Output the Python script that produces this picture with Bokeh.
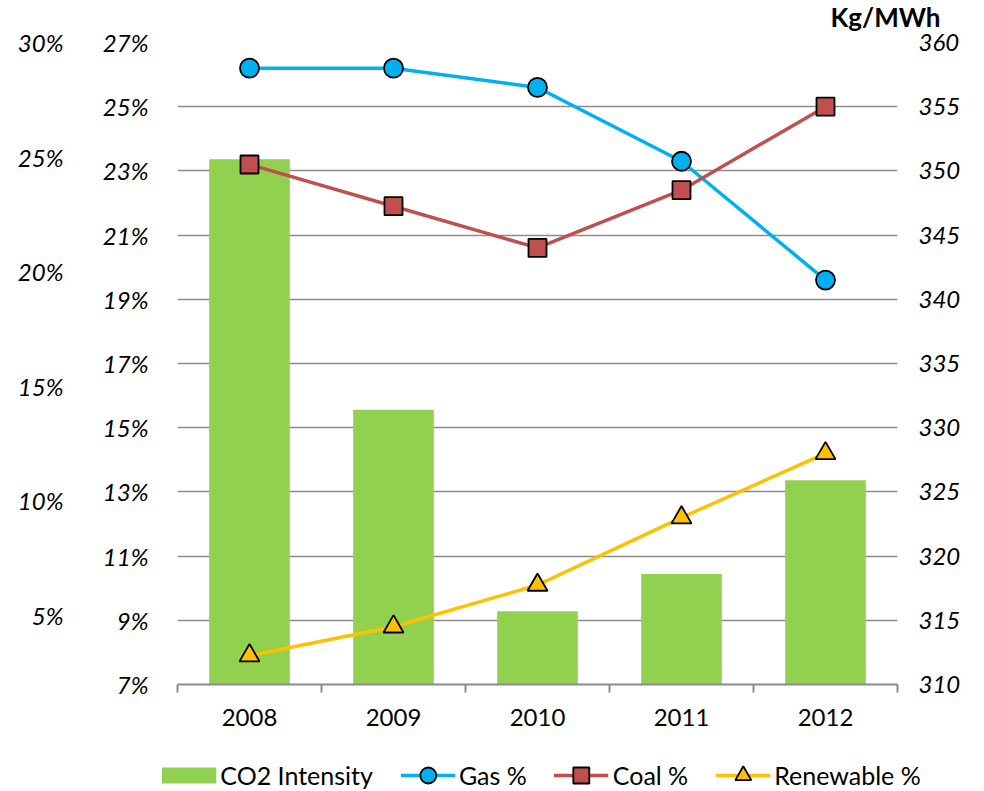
from bokeh.plotting import figure
from bokeh.models import (Range1d, LinearAxis, FixedTicker, PrintfTickFormatter,
                          Legend, LegendItem, Label)
from bokeh.embed import file_html
from bokeh.resources import INLINE

# ---------------- data ----------------
years = ["2008", "2009", "2010", "2011", "2012"]
co2_intensity = [350.9, 331.4, 315.7, 318.6, 325.9]      # Kg/MWh, right axis
gas_share = [26.2, 26.2, 25.6, 23.3, 19.6]               # %
coal_share = [23.2, 21.9, 20.6, 22.4, 25.0]              # %
renewable_share = [7.9, 8.8, 10.1, 12.2, 14.2]           # %

share_ticks = [7, 9, 11, 13, 15, 17, 19, 21, 23, 25, 27]
outer_share_ticks = [5, 10, 15, 20, 25, 30]
co2_ticks = [310, 315, 320, 325, 330, 335, 340, 345, 350, 355, 360]

# ---------------- layout / style ----------------
W = 984
H_MAIN, H_LEG = 730, 61
BL, BR, BT, BB = 177, 87, 42, 46
FW, FH = W - BL - BR, H_MAIN - BT - BB
FONT = "Lato"
GRID = "#8C8C8C"
GREEN = "#92D050"
BLUE = "#00B0F0"
RED = "#C0504D"
GOLD = "#FFC000"

xs = [i + 0.5 for i in range(len(years))]
bounds = list(range(len(years) + 1))

p = figure(width=W, height=H_MAIN,
           x_range=Range1d(0, len(years)),
           y_range=Range1d(share_ticks[0], share_ticks[-1]),
           output_backend="svg", toolbar_location=None,
           min_border_left=BL, min_border_right=BR,
           min_border_top=BT, min_border_bottom=BB,
           outline_line_color=None)
p.extra_y_ranges = {
    "co2": Range1d(co2_ticks[0], co2_ticks[-1]),
    "outer": Range1d(30 - FH / 22.9, 30),
}

# bars
p.vbar(x=xs, top=co2_intensity, bottom=co2_ticks[0], width=0.56,
       y_range_name="co2", fill_color=GREEN, line_color=None)

# lines + markers
p.line(xs, gas_share, line_color=BLUE, line_width=3.5)
p.scatter(xs, gas_share, marker="circle", size=19,
          fill_color=BLUE, line_color="black", line_width=1.8)
p.line(xs, coal_share, line_color=RED, line_width=3.5)
p.scatter(xs, coal_share, marker="square", size=18,
          fill_color=RED, line_color="black", line_width=1.8)
p.line(xs, renewable_share, line_color=GOLD, line_width=3.5)
p.scatter(xs, renewable_share, marker="triangle", size=20,
          fill_color=GOLD, line_color="black", line_width=1.8)

# ---------------- axes ----------------
xa = p.xaxis[0]
xa.ticker = FixedTicker(ticks=xs, minor_ticks=bounds)
xa.major_label_overrides = {x: y for x, y in zip(xs, years)}
xa.major_tick_in = 0
xa.major_tick_out = 0
xa.minor_tick_in = 0
xa.minor_tick_out = 8
xa.minor_tick_line_color = GRID
xa.minor_tick_line_width = 2
xa.axis_line_color = GRID
xa.axis_line_width = 2
xa.major_label_standoff = 16
xa.major_label_text_font = FONT
xa.major_label_text_font_size = "24px"
xa.major_label_text_color = "black"


def style_y(ax, standoff):
    ax.axis_line_color = None
    ax.major_tick_in = 0
    ax.major_tick_out = 0
    ax.minor_tick_in = 0
    ax.minor_tick_out = 0
    ax.major_label_standoff = standoff
    ax.major_label_text_font = FONT
    ax.major_label_text_font_size = "24px"
    ax.major_label_text_font_style = "italic"
    ax.major_label_text_color = "black"


ya = p.yaxis[0]
ya.ticker = FixedTicker(ticks=share_ticks)
ya.formatter = PrintfTickFormatter(format="%d%%")
style_y(ya, 29)

outer = LinearAxis(y_range_name="outer", ticker=FixedTicker(ticks=outer_share_ticks),
                   formatter=PrintfTickFormatter(format="%d%%"))
style_y(outer, 36)
p.add_layout(outer, "left")

right = LinearAxis(y_range_name="co2", ticker=FixedTicker(ticks=co2_ticks))
style_y(right, 21)
p.add_layout(right, "right")

p.xgrid.visible = False
p.ygrid.grid_line_color = GRID
p.ygrid.grid_line_width = 1.3

# unit label above the right axis (in the top border panel)
p.add_layout(Label(x=FW + 43, y=26, x_units="screen", y_units="screen",
                   text="Kg/MWh", text_align="right", text_baseline="middle",
                   text_font=FONT, text_font_size="26px", text_font_style="bold",
                   text_color="black"), "above")

# ---------------- legend strip ----------------
# same series, drawn off-view, only to feed the legend keys
lf = figure(width=W, height=H_LEG, x_range=Range1d(-3, -2), y_range=Range1d(-3, -2),
            x_axis_location=None, y_axis_location=None,
            output_backend="svg", toolbar_location=None,
            min_border_left=98, min_border_right=0,
            min_border_top=28, min_border_bottom=0,
            outline_line_color=None)
lf.grid.visible = False
k_co2 = lf.line(xs, co2_intensity, line_color=GREEN, line_width=16, line_cap="butt")
k_gas_l = lf.line(xs, gas_share, line_color=BLUE, line_width=3.5)
k_gas_m = lf.scatter(xs, gas_share, marker="circle", fill_color=BLUE,
                     line_color="black", line_width=1.8)
k_coal_l = lf.line(xs, coal_share, line_color=RED, line_width=3.5)
k_coal_m = lf.scatter(xs, coal_share, marker="square", fill_color=RED,
                      line_color="black", line_width=1.8)
k_ren_l = lf.line(xs, renewable_share, line_color=GOLD, line_width=3.5)
k_ren_m = lf.scatter(xs, renewable_share, marker="triangle", fill_color=GOLD,
                     line_color="black", line_width=1.8)

legend = Legend(items=[
    LegendItem(label="CO2 Intensity", renderers=[k_co2]),
    LegendItem(label="Gas %", renderers=[k_gas_l, k_gas_m]),
    LegendItem(label="Coal %", renderers=[k_coal_l, k_coal_m]),
    LegendItem(label="Renewable %", renderers=[k_ren_l, k_ren_m]),
], orientation="horizontal", location="center",
    glyph_width=55, glyph_height=40, label_standoff=4, spacing=27,
    padding=0, margin=0, border_line_color=None, background_fill_alpha=0,
    label_text_font=FONT, label_text_font_size="25px", label_text_color="black")
lf.add_layout(legend)

open("out.html", "w").write(file_html([p, lf], INLINE))
